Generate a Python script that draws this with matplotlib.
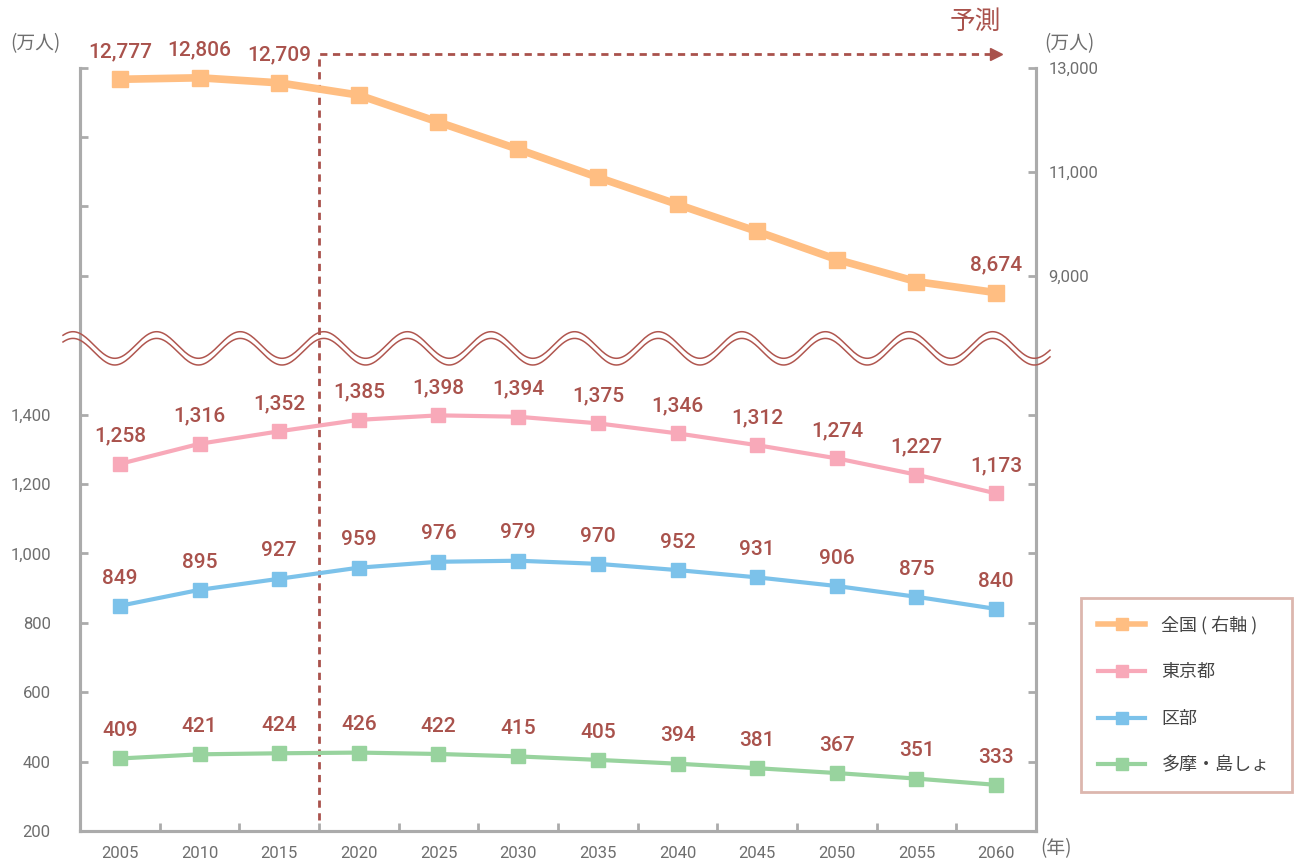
import numpy as np
import matplotlib
matplotlib.use('Agg')
from matplotlib import pyplot as plt
from matplotlib.lines import Line2D
from matplotlib.transforms import blended_transform_factory

plt.rcParams['font.family'] = ['Roboto', 'Noto Sans CJK JP', 'DejaVu Sans']

years = ['2005', '2010', '2015', '2020', '2025', '2030',
         '2035', '2040', '2045', '2050', '2055', '2060']
zenkoku = [12777, 12806, 12709, 12473, 11953, 11432,
           10892, 10371, 9851, 9311, 8886, 8674]
zenkoku_labeled = [0, 1, 2, 11]
tokyo = [1258, 1316, 1352, 1385, 1398, 1394, 1375, 1346, 1312, 1274, 1227, 1173]
kubu = [849, 895, 927, 959, 976, 979, 970, 952, 931, 906, 875, 840]
tama = [409, 421, 424, 426, 422, 415, 405, 394, 381, 367, 351, 333]
left_ticks = [200, 400, 600, 800, 1000, 1200, 1400]
right_ticks = [9000, 11000, 13000]
names = ['全国 ( 右軸 )', '東京都', '区部', '多摩・島しょ']

c_zen = '#FFBE82'
c_tok = '#F8A9B9'
c_kub = '#7CC2EA'
c_tam = '#98D39E'
c_lab = '#A9524C'
c_ax = '#ABABAB'
c_tx = '#6E6E6E'

W, H = 1295, 864
fig = plt.figure(figsize=(W / 100, H / 100), dpi=100)
ax = fig.add_axes([80 / W, 1 - 831 / H, (1036 - 80) / W, (831 - 67.7) / H])
ax2 = ax.twinx()

L0, L1 = 200, 2400
R0, R1 = -1680, 13000
ax.set_xlim(-0.5, 11.5)
ax.set_ylim(L0, L1)
ax2.set_ylim(R0, R1)

x = np.arange(len(years))

# forecast marker (dashed line + arrow)
tr = blended_transform_factory(ax.transData, ax.transAxes)
ax.plot([2.5, 2.5, 10.95], [0.014, 1.018, 1.018], transform=tr, color=c_lab,
        lw=2, ls=(0, (2.6, 2)), clip_on=False, zorder=1)
ax.plot([11.0], [1.018], transform=tr, marker='>', ms=9, color=c_lab,
        clip_on=False, zorder=1)
fig.text(975 / W, 1 - 22 / H, '予測', color=c_lab, fontsize=18.5,
         ha='center', va='center', family=['Noto Sans CJK JP'])

for vals, col in [(tokyo, c_tok), (kubu, c_kub), (tama, c_tam)]:
    ax.plot(x, vals, color=col, lw=3, marker='s', ms=10.5, zorder=3)
    for xi, v in zip(x, vals):
        ax.annotate(f'{v:,}', (xi, v), xytext=(0, 20), textcoords='offset points',
                    ha='center', va='center', color=c_lab, fontsize=15,
                    fontweight='medium')

ax2.plot(x, zenkoku, color=c_zen, lw=5.5, marker='s', ms=11.5, zorder=3)
for i in zenkoku_labeled:
    ax2.annotate(f'{zenkoku[i]:,}', (x[i], zenkoku[i]), xytext=(0, 20),
                 textcoords='offset points', ha='center', va='center',
                 color=c_lab, fontsize=15, fontweight='medium')

# axes styling
for a in (ax, ax2):
    for s in a.spines.values():
        s.set_color(c_ax)
        s.set_linewidth(2.2)
    a.spines['top'].set_visible(False)

ax.set_xticks(x, labels=years)
ax.set_xticks(np.arange(0.5, 11, 1), minor=True)
ax.tick_params(axis='x', which='major', length=0, pad=11, labelsize=12,
               labelcolor=c_tx)
ax.tick_params(axis='x', which='minor', direction='in', length=6, width=2,
               color=c_ax)

ax.set_yticks(left_ticks + [1800, 2000, 2200, 2400],
              labels=[f'{v:,}' for v in left_ticks] + ['', '', '', ''])
ax.tick_params(axis='y', direction='in', length=6, width=2, color=c_ax,
               pad=21, labelsize=12, labelcolor=c_tx)

# right axis: labelled ticks for 全国, unlabelled ones matching the left scale
ax2.set_yticks(right_ticks, labels=[f'{v:,}' for v in right_ticks])
ax2.set_yticks([R0 + (v - L0) / (L1 - L0) * (R1 - R0) for v in left_ticks[1:]],
               minor=True)
ax2.tick_params(axis='y', which='both', direction='in', length=6, width=2,
                color=c_ax, pad=9, labelsize=12, labelcolor=c_tx)

fig.text(35 / W, 1 - 44 / H, '(万人)', color=c_tx, fontsize=13.5,
         ha='center', va='center', family=['Noto Sans CJK JP'])
fig.text(1069 / W, 1 - 44 / H, '(万人)', color=c_tx, fontsize=13.5,
         ha='center', va='center', family=['Noto Sans CJK JP'])
fig.text(1056 / W, 1 - 849 / H, '(年)', color=c_tx, fontsize=13.5,
         ha='center', va='center', family=['Noto Sans CJK JP'])

# axis break (double wave)
wx = np.linspace(63, 1050, 600)
for off in (0, 6.7):
    wy = 345 + off - 13.3 * np.cos(2 * np.pi * (wx - 73) / 83.6)
    fig.add_artist(Line2D(wx / W, 1 - wy / H, color='#B0564F', lw=1.1,
                          transform=fig.transFigure, zorder=10))

handles = [
    Line2D([], [], color=c_zen, lw=4, marker='s', ms=9),
    Line2D([], [], color=c_tok, lw=3, marker='s', ms=9),
    Line2D([], [], color=c_kub, lw=3, marker='s', ms=9),
    Line2D([], [], color=c_tam, lw=3, marker='s', ms=9),
]
leg = fig.legend(handles, names, loc='upper left',
                 bbox_to_anchor=(1081 / W, 1 - 598 / H, 211 / W, 0.0),
                 mode='expand', frameon=True, fancybox=False,
                 fontsize=13, labelspacing=1.6, handlelength=2.6,
                 handletextpad=0.9, borderpad=0.95, borderaxespad=0)
leg.get_frame().set_edgecolor('#D4A59A')
leg.get_frame().set_linewidth(2)
for t in leg.get_texts():
    t.set_color('#444444')
    t.set_family(['Noto Sans CJK JP'])

fig.savefig('out.png', dpi=100)
